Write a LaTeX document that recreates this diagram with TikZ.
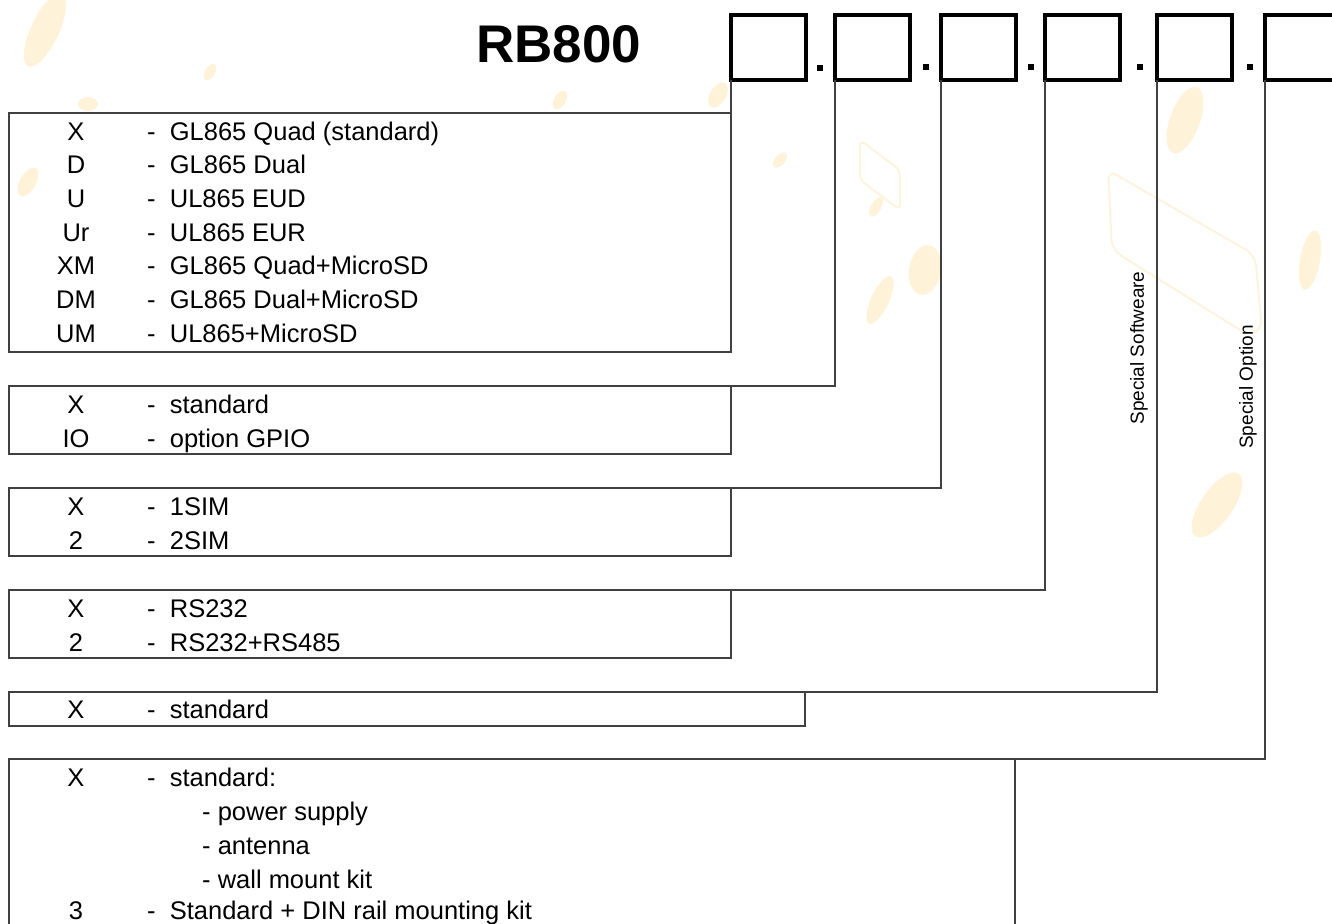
\documentclass[tikz,border=0pt]{standalone}
\usepackage{fontspec}
\setmainfont{Liberation Sans}
\begin{document}
\begin{tikzpicture}[x=1pt,y=-1pt,
  sq/.style={draw=black, line width=4pt, minimum width=75pt, minimum height=65pt, inner sep=0pt, outer sep=0pt},
  dotm/.style={fill=black, minimum size=6pt, inner sep=0pt, outer sep=0pt, rectangle},
  box/.style={draw=black!75, line width=1.3pt, inner sep=0pt, outer sep=0pt, anchor=north west},
  conn/.style={draw=black!75, line width=1.3pt},
  key/.style={anchor=base, inner sep=0pt, font=\fontsize{25.5}{25.5}\selectfont},
  desc/.style={anchor=base west, inner sep=0pt, font=\fontsize{25.5}{25.5}\selectfont},
  vlab/.style={rotate=90, inner sep=0pt, font=\fontsize{19}{19}\selectfont},
  wm/.style={fill={rgb,255:red,253;green,228;blue,170}, opacity=0.45},
  wml/.style={draw={rgb,255:red,252;green,232;blue,190}, line width=2pt, opacity=0.5}
]
\useasboundingbox (0,0) rectangle (1332,923);
\clip (0,0) rectangle (1332,923);
% faint watermark
\fill[wm] (45,30) ellipse [x radius=14pt, y radius=40pt, rotate=-25];
\fill[wm] (28,182) ellipse [x radius=8pt, y radius=16pt, rotate=-30];
\fill[wm] (88,104) ellipse [x radius=10pt, y radius=7pt];
\fill[wm] (210,72) ellipse [x radius=5pt, y radius=9pt, rotate=-30];
\fill[wm] (560,100) ellipse [x radius=6pt, y radius=10pt, rotate=-30];
\fill[wm] (718,95) ellipse [x radius=8pt, y radius=14pt, rotate=-30];
\fill[wm] (780,160) ellipse [x radius=5pt, y radius=9pt, rotate=-40];
\fill[wm] (876,207) ellipse [x radius=5pt, y radius=11pt, rotate=-30];
\fill[wm] (925,270) ellipse [x radius=16pt, y radius=25pt, rotate=-10];
\fill[wm] (880,300) ellipse [x radius=9pt, y radius=26pt, rotate=-25];
\fill[wm] (1185,120) ellipse [x radius=15pt, y radius=35pt, rotate=-20];
\fill[wm] (1217,505) ellipse [x radius=16pt, y radius=38pt, rotate=-35];
\fill[wm] (1310,260) ellipse [x radius=10pt, y radius=30pt, rotate=-10];
\draw[wml, rounded corners=10pt] (1108,170) -- (1255,255) -- (1262,330) -- (1248,335) -- (1112,250) -- cycle;
\draw[wml, rounded corners=6pt] (860,140) -- (900,170) -- (900,210) -- (860,180) -- cycle;
% title
\node[anchor=base west, inner sep=0pt, font=\fontsize{53}{53}\selectfont\bfseries] (title) at (476,63) {RB800};
% code squares and dots
\node[sq] (s1) at (768.5,47.5) {};
\node[sq] (s2) at (872.5,47.5) {};
\node[sq] (s3) at (978.5,47.5) {};
\node[sq] (s4) at (1082.5,47.5) {};
\node[sq] (s5) at (1194.5,47.5) {};
\node[sq] (s6) at (1302.5,47.5) {};
\node[dotm] (d1) at (820,68) {};
\node[dotm] (d2) at (925.5,67.5) {};
\node[dotm] (d3) at (1030.5,67.5) {};
\node[dotm] (d4) at (1139.5,67.5) {};
\node[dotm] (d5) at (1249.5,67.5) {};
% option boxes
\node[box, minimum width=722pt, minimum height=239pt] (b1) at (9,113) {};
\node[box, minimum width=722pt, minimum height=68pt] (b2) at (9,386) {};
\node[box, minimum width=722pt, minimum height=68pt] (b3) at (9,488) {};
\node[box, minimum width=722pt, minimum height=68pt] (b4) at (9,590) {};
\node[box, minimum width=796pt, minimum height=34pt] (b5) at (9,692) {};
\node[box, minimum width=1006pt, minimum height=220pt] (b6) at (9,759) {};
% connectors
\draw[conn] (s1.south west) -- (b1.north east);
\draw[conn] (s2.south west) |- (b2.north east);
\draw[conn] (s3.south west) |- (b3.north east);
\draw[conn] (s4.south west) |- (b4.north east);
\draw[conn] (s5.south west) |- (b5.north east);
\draw[conn] (s6.south west) |- (b6.north east);
% vertical labels
\node[vlab] (lsw) at (1139,348) {Special Softweare};
\node[vlab] (lso) at (1248,387) {Special Option};
% box 1
\node[key] (k11) at (76,140) {X};   \node[desc] (t11) at (147,140) {-\ \ GL865 Quad (standard)};
\node[key] (k12) at (76,173.7) {D}; \node[desc] (t12) at (147,173.7) {-\ \ GL865 Dual};
\node[key] (k13) at (76,207.4) {U}; \node[desc] (t13) at (147,207.4) {-\ \ UL865 EUD};
\node[key] (k14) at (76,241) {Ur};  \node[desc] (t14) at (147,241) {-\ \ UL865 EUR};
\node[key] (k15) at (76,274.7) {XM};\node[desc] (t15) at (147,274.7) {-\ \ GL865 Quad+MicroSD};
\node[key] (k16) at (76,308.4) {DM};\node[desc] (t16) at (147,308.4) {-\ \ GL865 Dual+MicroSD};
\node[key] (k17) at (76,342) {UM};  \node[desc] (t17) at (147,342) {-\ \ UL865+MicroSD};
% box 2
\node[key] (k21) at (76,413) {X};   \node[desc] (t21) at (147,413) {-\ \ standard};
\node[key] (k22) at (76,447) {IO};  \node[desc] (t22) at (147,447) {-\ \ option GPIO};
% box 3
\node[key] (k31) at (76,515) {X};   \node[desc] (t31) at (147,515) {-\ \ 1SIM};
\node[key] (k32) at (76,549) {2};   \node[desc] (t32) at (147,549) {-\ \ 2SIM};
% box 4
\node[key] (k41) at (76,617) {X};   \node[desc] (t41) at (147,617) {-\ \ RS232};
\node[key] (k42) at (76,651) {2};   \node[desc] (t42) at (147,651) {-\ \ RS232+RS485};
% box 5
\node[key] (k51) at (76,718) {X};   \node[desc] (t51) at (147,718) {-\ \ standard};
% box 6
\node[key] (k61) at (76,786) {X};   \node[desc] (t61) at (147,786) {-\ \ standard:};
\node[desc] (t62) at (202,820) {- power supply};
\node[desc] (t63) at (202,854) {- antenna};
\node[desc] (t64) at (202,888) {- wall mount kit};
\node[key] (k65) at (76,919) {3};   \node[desc] (t65) at (147,919) {-\ \ Standard + DIN rail mounting kit};
\end{tikzpicture}
\end{document}
